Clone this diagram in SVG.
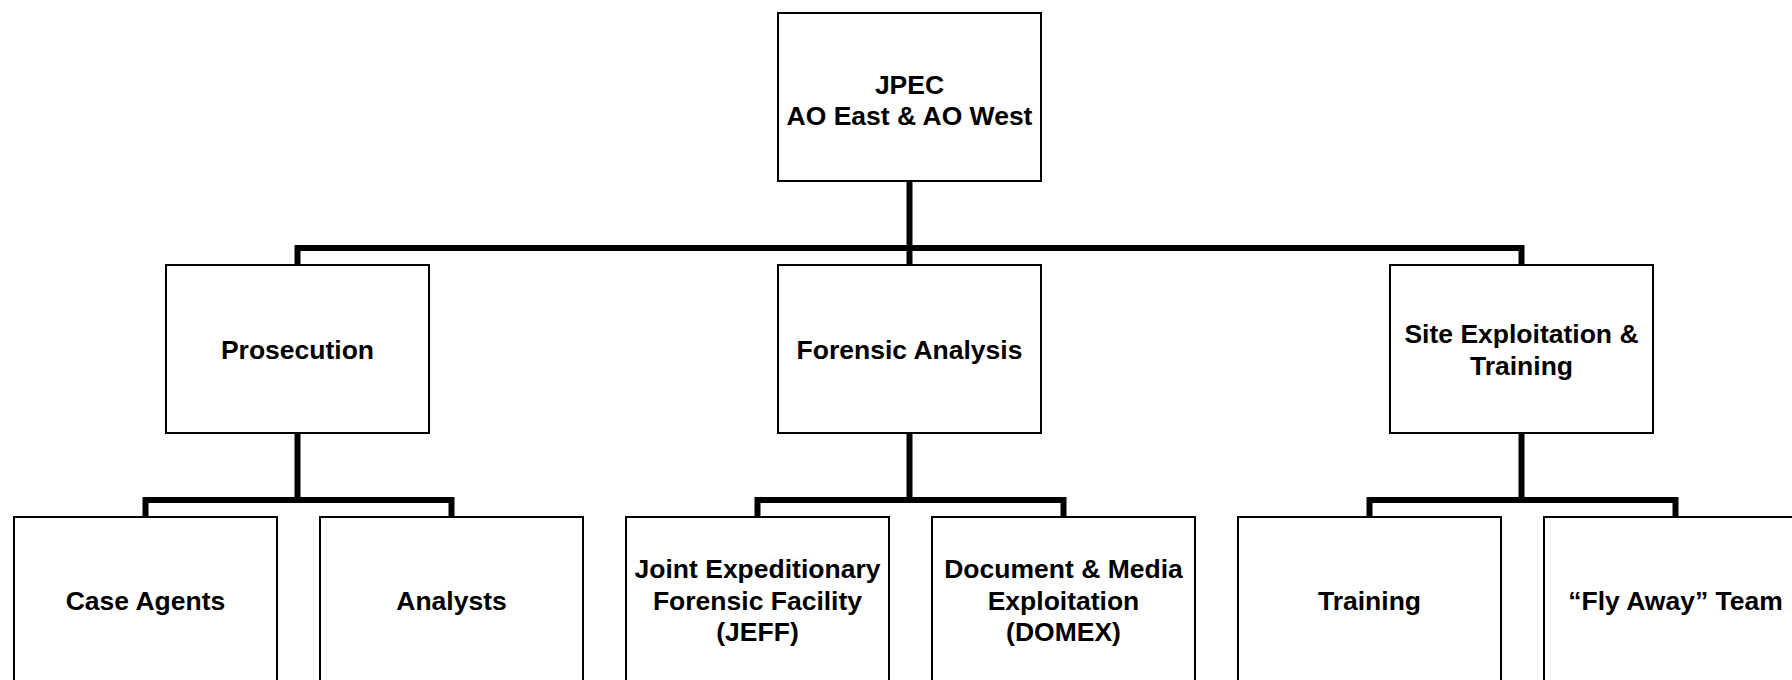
<svg xmlns="http://www.w3.org/2000/svg" width="1792" height="680" viewBox="0 0 1792 680">
<style>
.box{fill:#fff;stroke:#000;stroke-width:2}
.lbl{font-family:"Liberation Sans",Arial,sans-serif;font-weight:bold;font-size:26.5px;text-anchor:middle;fill:#000}
.conn{fill:none;stroke:#000;stroke-width:6;stroke-linejoin:miter}
</style>
<rect width="1792" height="680" fill="#fff"/>
<g id="connectors">
<path class="conn" d="M909.5 181 V248"/>
<path class="conn" d="M297.5 265 V248 H1521.5 V265"/>
<path class="conn" d="M909.5 248 V265"/>
<path class="conn" d="M297.5 433 V500"/>
<path class="conn" d="M145.5 517 V500 H451.5 V517"/>
<path class="conn" d="M909.5 433 V500"/>
<path class="conn" d="M757.5 517 V500 H1063.5 V517"/>
<path class="conn" d="M1521.5 433 V500"/>
<path class="conn" d="M1369.5 517 V500 H1675.5 V517"/>
</g>
<g id="jpec">
<rect class="box" x="778" y="13" width="263" height="168"/>
<text class="lbl" x="909.5" y="93.5">JPEC</text>
<text class="lbl" x="909.5" y="125">AO East &amp; AO West</text>
</g>
<g id="prosecution">
<rect class="box" x="166" y="265" width="263" height="168"/>
<text class="lbl" x="297.5" y="359">Prosecution</text>
</g>
<g id="forensic">
<rect class="box" x="778" y="265" width="263" height="168"/>
<text class="lbl" x="909.5" y="359">Forensic Analysis</text>
</g>
<g id="site">
<rect class="box" x="1390" y="265" width="263" height="168"/>
<text class="lbl" x="1521.5" y="343">Site Exploitation &amp;</text>
<text class="lbl" x="1521.5" y="374.5">Training</text>
</g>
<g id="case-agents">
<rect class="box" x="14" y="517" width="263" height="168"/>
<text class="lbl" x="145.5" y="609.5">Case Agents</text>
</g>
<g id="analysts">
<rect class="box" x="320" y="517" width="263" height="168"/>
<text class="lbl" x="451.5" y="609.5">Analysts</text>
</g>
<g id="jeff">
<rect class="box" x="626" y="517" width="263" height="168"/>
<text class="lbl" x="757.5" y="578">Joint Expeditionary</text>
<text class="lbl" x="757.5" y="609.5">Forensic Facility</text>
<text class="lbl" x="757.5" y="641">(JEFF)</text>
</g>
<g id="domex">
<rect class="box" x="932" y="517" width="263" height="168"/>
<text class="lbl" x="1063.5" y="578">Document &amp; Media</text>
<text class="lbl" x="1063.5" y="609.5">Exploitation</text>
<text class="lbl" x="1063.5" y="641">(DOMEX)</text>
</g>
<g id="training">
<rect class="box" x="1238" y="517" width="263" height="168"/>
<text class="lbl" x="1369.5" y="609.5">Training</text>
</g>
<g id="flyaway">
<rect class="box" x="1544" y="517" width="263" height="168"/>
<text class="lbl" x="1675.5" y="609.5">“Fly Away” Team</text>
</g>
</svg>
